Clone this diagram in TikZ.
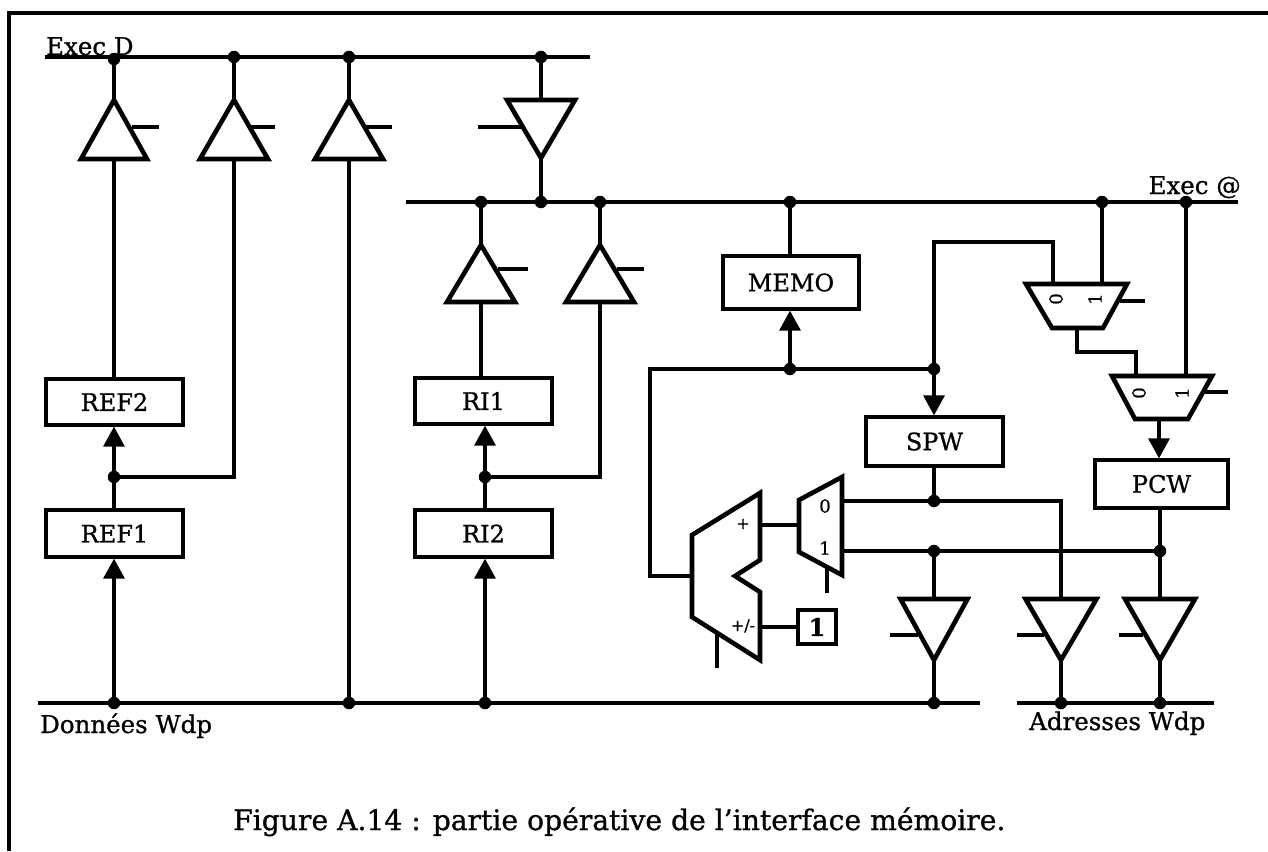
\documentclass[tikz,border=0pt]{standalone}
\usepackage{fontspec}
\setmainfont[RawFeature={embolden=0.9}]{DejaVu Serif}
\usetikzlibrary{arrows.meta,calc}
\tikzset{
  wire/.style={line width=3.3pt,line cap=butt,line join=miter},
  bus/.style={line width=3.8pt},
  framel/.style={line width=4pt},
  gate/.style={line width=4.6pt,line join=miter},
  unitbox/.style={draw,line width=3.3pt,rectangle,inner sep=0pt,font=\fontsize{24}{28}\selectfont},
  jdot/.style={circle,fill=black,inner sep=0pt,minimum size=12.5pt},
  arr/.style={wire,-{Triangle[length=20pt,width=21pt]}},
  lbl/.style={inner sep=0pt,font=\fontsize{24.5}{28}\selectfont},
  smalltxt/.style={inner sep=0pt,font=\fontsize{18}{20}\selectfont},
  captxt/.style={inner sep=0pt,font=\fontsize{28.2}{32}\selectfont}
}
% name, x centre, half width, apex y, base y, stub y, stub start x, stub end x
\newcommand{\buffer}[8]{%
  \coordinate (#1a) at (#2,#4);
  \coordinate (#1b) at (#2,#5);
  \coordinate (#1s) at (#7,#6);
  \coordinate (#1e) at (#8,#6);
  \draw[gate] (#2-#3,#5) -- (#1a) -- (#2+#3,#5) -- cycle;
  \draw[wire] (#1s) -- (#1e);
}
\begin{document}
\begin{tikzpicture}[x=1pt,y=-1pt]
\useasboundingbox (0,0) rectangle (1268,851);
% frame
\draw[framel] (1268,13) -- (9,13) -- (9,851);

% buses
\coordinate (dl) at (45,57);   \coordinate (dr) at (590,57);
\coordinate (al) at (406,202); \coordinate (ar) at (1238,202);
\coordinate (wl) at (38,703);  \coordinate (wr) at (980,703);
\coordinate (xl) at (1017,703);\coordinate (xr) at (1214,703);
\draw[bus] (dl) -- (dr);
\draw[bus] (al) -- (ar);
\draw[bus] (wl) -- (wr);
\draw[bus] (xl) -- (xr);

% junctions
\node[jdot] (jd1) at (114,59) {};
\node[jdot] (jd2) at (234,57) {};
\node[jdot] (jd3) at (349,57) {};
\node[jdot] (jd4) at (541,57) {};
\node[jdot] (ja1) at (481,202) {};
\node[jdot] (ja2) at (541,202) {};
\node[jdot] (ja3) at (600,202) {};
\node[jdot] (ja4) at (790,202) {};
\node[jdot] (ja5) at (1102,202) {};
\node[jdot] (ja6) at (1186,202) {};
\node[jdot] (jw1) at (114,703) {};
\node[jdot] (jw2) at (349,703) {};
\node[jdot] (jw3) at (485,703) {};
\node[jdot] (jw4) at (934,703) {};
\node[jdot] (jx1) at (1061,703) {};
\node[jdot] (jx2) at (1160,703) {};
\node[jdot] (jr) at (114,477) {};
\node[jdot] (ji) at (485,477) {};
\node[jdot] (jm) at (790,369) {};
\node[jdot] (js) at (934,369) {};
\node[jdot] (jo) at (934,501) {};
\node[jdot] (jq) at (934,551) {};
\node[jdot] (jp) at (1160,551) {};

% boxes
\node[unitbox,minimum width=137pt,minimum height=46pt] (ref2) at (114.5,402) {REF2};
\node[unitbox,minimum width=137pt,minimum height=47pt] (ref1) at (114.5,533.5) {REF1};
\node[unitbox,minimum width=137pt,minimum height=46pt] (ri1) at (483.5,401) {RI1};
\node[unitbox,minimum width=137pt,minimum height=47pt] (ri2) at (483.5,533.5) {RI2};
\node[unitbox,minimum width=136pt,minimum height=53pt] (memo) at (791,282.5) {MEMO};
\node[unitbox,minimum width=137pt,minimum height=49pt] (spw) at (934.5,441.5) {SPW};
\node[unitbox,minimum width=133pt,minimum height=48pt] (pcw) at (1161.5,484) {PCW};
\node[draw,line width=3.3pt,inner sep=0pt,minimum width=38pt,minimum height=34pt,font=\fontsize{24}{26}\selectfont\bfseries] (one) at (817,627) {1};

% tristate buffers
\buffer{ta}{114}{33}{100}{159}{127}{132}{159}
\buffer{tb}{234}{34}{100}{159}{127}{250}{275}
\buffer{tc}{349}{34}{100}{159}{127}{366}{392}
\buffer{td}{541}{34}{158}{100}{127}{478}{523}
\buffer{te}{481}{34}{245}{302}{269}{498}{528}
\buffer{tf}{600}{34}{245}{302}{269}{617}{644}
\buffer{tg}{934}{33.5}{660}{599}{635}{890}{918}
\buffer{th}{1061}{35.5}{660}{599}{635}{1017}{1044}
\buffer{ti}{1160}{35}{660}{599}{635}{1119}{1143}

% adder and mux
\coordinate (addw) at (692,576);
\coordinate (addp) at (760,525);
\coordinate (addm) at (760,627);
\draw[gate] (692,535) -- (760,493) -- (760,560) -- (735,576) -- (760,592) -- (760,660) -- (692,617) -- cycle;
\coordinate (addc) at (717,632); \coordinate (addd) at (717,668);
\draw[wire] (addc) -- (addd);
\coordinate (muxi) at (799,525);
\coordinate (mux0) at (842,501);
\coordinate (mux1) at (842,551);
\draw[gate] (799,500) -- (842,477) -- (842,575) -- (799,552) -- cycle;
\coordinate (muxc) at (827,568); \coordinate (muxd) at (827,593);
\draw[wire] (muxc) -- (muxd);

% upper muxes
\draw[gate] (1026,284) -- (1127,284) -- (1103,328) -- (1052,328) -- cycle;
\coordinate (ua) at (1053,284); \coordinate (ub) at (1102,284); \coordinate (uo) at (1077,328);
\coordinate (us) at (1120,301); \coordinate (ue) at (1145,301);
\draw[wire] (us) -- (ue);
\draw[gate] (1112,376) -- (1212,376) -- (1188,419) -- (1135,419) -- cycle;
\coordinate (va) at (1136,376); \coordinate (vb) at (1186,376); \coordinate (vo) at (1159,419);
\coordinate (vs) at (1205,392); \coordinate (ve) at (1228,392);
\draw[wire] (vs) -- (ve);

% connectors
\draw[wire] (jd1) -- (taa);
\draw[wire] (jd2) -- (tba);
\draw[wire] (jd3) -- (tca);
\draw[wire] (jd4) -- (tdb);
\draw[wire] (tda) -- (ja2);
\draw[wire] (tab) -- (tab |- ref2.north);
\draw[wire] (tbb) -- (tbb |- jr) -- (jr);
\draw[wire] (tcb) -- (jw2);
\draw[arr] (jr) -- (jr |- ref2.south);
\draw[wire] (jr) -- (jr |- ref1.north);
\draw[arr] (jw1) -- (jw1 |- ref1.south);
\draw[wire] (ja1) -- (tea);
\draw[wire] (ja3) -- (tfa);
\draw[wire] (teb) -- (teb |- ri1.north);
\draw[wire] (tfb) -- (tfb |- ji) -- (ji);
\draw[arr] (ji) -- (ji |- ri1.south);
\draw[wire] (ji) -- (ji |- ri2.north);
\draw[arr] (jw3) -- (jw3 |- ri2.south);
\draw[wire] (ja4) -- (memo.north -| ja4);
\draw[arr] (jm) -- (jm |- memo.south);
\draw[wire] (addw) -- (650,576) -- (650,369) -- (jm);
\draw[wire] (jm) -- (js);
\draw[arr] (js) -- (js |- spw.north);
\draw[wire] (js) -- (934,242) -- (1053,242) -- (ua);
\draw[wire] (ja5) -- (ub);
\draw[wire] (uo) -- (1077,352) -- (1136,352) -- (va);
\draw[wire] (ja6) -- (vb);
\draw[arr] (vo) -- (vo |- pcw.north);
\draw[wire] (jo) -- (jo |- spw.south);
\draw[wire] (addp) -- (muxi);
\draw[wire] (addm) -- (one.west);
\draw[wire] (mux0) -- (jo) -- (1061,501) -- (thb);
\draw[wire] (mux1) -- (jq) -- (jp);
\draw[wire] (jp) -- (jp |- pcw.south);
\draw[wire] (jq) -- (tgb);
\draw[wire] (jp) -- (tib);
\draw[wire] (tga) -- (jw4);
\draw[wire] (tha) -- (jx1);
\draw[wire] (tia) -- (jx2);

% texts
\node[lbl,anchor=base west] (lexd) at (46,55) {Exec D};
\node[lbl,anchor=base east] (lexa) at (1241,194) {Exec @};
\node[lbl,anchor=base west] (ldon) at (40,733) {Données Wdp};
\node[lbl,anchor=base west] (ladr) at (1029,730) {Adresses Wdp};
\node[smalltxt,font=\fontsize{16}{18}\selectfont] (lplus) at (743,524) {+};
\node[smalltxt,font=\fontsize{16}{18}\selectfont] (lpm) at (743,626) {+/-};
\node[smalltxt] (l0) at (825,506) {0};
\node[smalltxt] (l1) at (825,548) {1};
\node[smalltxt,rotate=90] (u0) at (1056,299) {0};
\node[smalltxt,rotate=90] (u1) at (1095,299) {1};
\node[smalltxt,rotate=90] (v0) at (1139,393) {0};
\node[smalltxt,rotate=90] (v1) at (1182,393) {1};
\node[captxt,anchor=base west] (capt) at (233,830) {Figure A.14 : partie opérative de l'interface mémoire.};
\end{tikzpicture}
\end{document}
